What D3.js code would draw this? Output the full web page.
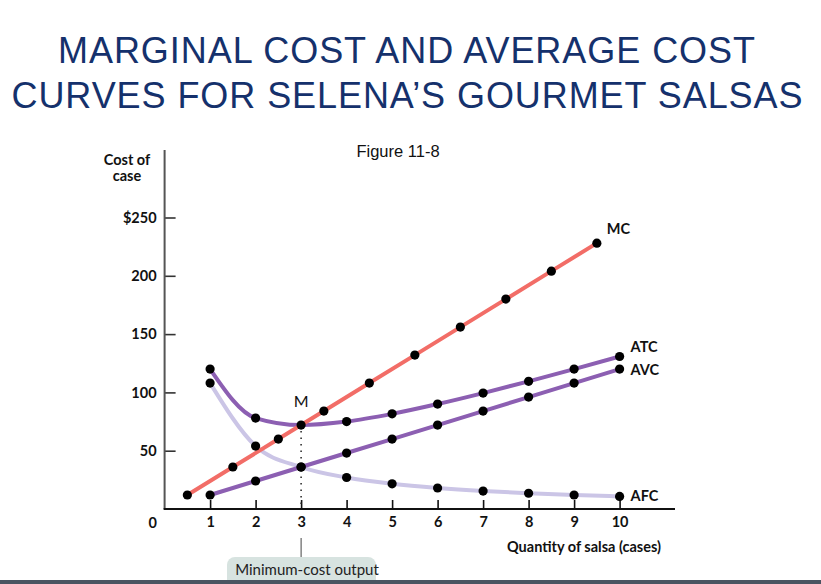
<!DOCTYPE html>
<html>
<head>
<meta charset="utf-8">
<style>
    body { margin: 0; background: #fff; }
    svg { display: block; }
    .title { font-family: "Liberation Sans", Arial, sans-serif; fill: #15316c; font-size: 36px; }
    .tick text, .lbl { font-family: Lato, "Open Sans", sans-serif; font-weight: 700; font-size: 14.5px; fill: #111; }
</style>
</head>
<body>
<svg width="821" height="584"></svg>
<script src="https://d3js.org/d3.v7.min.js"></script>
<script>
    // data (Selena's Gourmet Salsas)
    let qty = [1, 2, 3, 4, 5, 6, 7, 8, 9, 10]
    let atc = [120, 78, 72, 75, 81.6, 90, 99.4, 109.5, 120, 130.8]
    let avc = [12, 24, 36, 48, 60, 72, 84, 96, 108, 120]
    let afc = [108, 54, 36, 27, 21.6, 18, 15.4, 13.5, 12, 10.8]
    let mcQty = [0.5, 1.5, 2.5, 3.5, 4.5, 5.5, 6.5, 7.5, 8.5, 9.5]
    let mc = [12, 36, 60, 84, 108, 132, 156, 180, 204, 228]
    let yTicks = [50, 100, 150, 200, 250]
    let minCostQ = 3

    let svg = d3.select("svg")

    // title
    svg.append("text").attr("class", "title").attr("x", 406.5).attr("y", 63)
        .attr("text-anchor", "middle")
        .attr("textLength", 697).attr("lengthAdjust", "spacing")
        .text("MARGINAL COST AND AVERAGE COST")
    svg.append("text").attr("class", "title").attr("x", 407).attr("y", 108)
        .attr("text-anchor", "middle")
        .attr("textLength", 791).attr("lengthAdjust", "spacing")
        .text("CURVES FOR SELENA\u2019S GOURMET SALSAS")

    svg.append("text").attr("x", 398).attr("y", 157)
        .attr("text-anchor", "middle")
        .style("font-family", "Liberation Sans, Arial, sans-serif")
        .style("font-size", "16.5px").style("fill", "#111")
        .text("Figure 11-8")

    let x = d3.scaleLinear().domain([0, 10]).range([164.6, 619.6])
    let y = d3.scaleLinear().domain([0, 250]).range([509, 217.5])

    // axes
    let yAxis = d3.axisLeft(y).tickValues(yTicks)
        .tickSizeInner(-11).tickSizeOuter(0).tickPadding(8)
        .tickFormat(d => d == 250 ? "$250" : d)
    let gy = svg.append("g").attr("transform", "translate(" + x(0) + ",0)").call(yAxis)
    gy.select(".domain").remove()
    gy.selectAll(".tick line").style("stroke", "#333").style("stroke-width", 1.6)

    let xAxis = d3.axisBottom(x).tickValues(qty)
        .tickSizeInner(-9).tickSizeOuter(0).tickPadding(8)
    let gx = svg.append("g").attr("transform", "translate(0," + y(0) + ")").call(xAxis)
    gx.select(".domain").remove()
    gx.selectAll(".tick line").style("stroke", "#111").style("stroke-width", 1.6)

    svg.append("line")
        .attr("x1", x(0)).attr("x2", x(0)).attr("y1", 150).attr("y2", y(0))
        .style("stroke", "#555").style("stroke-width", 2)
    svg.append("line")
        .attr("x1", x(0) - 1).attr("x2", 675).attr("y1", y(0)).attr("y2", y(0))
        .style("stroke", "#111").style("stroke-width", 2)

    svg.append("text").attr("class", "lbl").attr("x", x(0) - 12).attr("y", y(0) + 19)
        .attr("text-anchor", "middle").text("0")
    svg.append("text").attr("class", "lbl").attr("x", 661).attr("y", 552)
        .attr("text-anchor", "end").text("Quantity of salsa (cases)")
    svg.append("text").attr("class", "lbl").attr("x", 127).attr("y", 165)
        .attr("text-anchor", "middle").text("Cost of")
    svg.append("text").attr("class", "lbl").attr("x", 127).attr("y", 181)
        .attr("text-anchor", "middle").text("case")

    // minimum-cost dotted line
    svg.append("line")
        .attr("x1", x(minCostQ)).attr("x2", x(minCostQ))
        .attr("y1", y(72) + 6).attr("y2", y(0) - 2)
        .style("stroke", "#222").style("stroke-width", 1.5)
        .style("stroke-dasharray", "1.5,5")

    // curves
    let lineCurve = d3.line().x(d => x(d[0])).y(d => y(d[1])).curve(d3.curveMonotoneX)
    let straight = d3.line().x(d => x(d[0])).y(d => y(d[1]))

    let series = [
        { name: "AFC", xs: qty, ys: afc, color: "#cbc5e6", gen: lineCurve },
        { name: "AVC", xs: qty, ys: avc, color: "#8c5fb2", gen: straight },
        { name: "ATC", xs: qty, ys: atc, color: "#8c5fb2", gen: lineCurve },
        { name: "MC", xs: mcQty, ys: mc, color: "#f26d67", gen: straight }
    ]

    series.forEach(s => {
        let pts = s.xs.map((q, i) => [q, s.ys[i]])
        svg.append("path")
            .attr("d", s.gen(pts))
            .style("fill", "none")
            .style("stroke", s.color)
            .style("stroke-width", 4)
            .style("stroke-linecap", "round")
    })

    series.forEach(s => {
        let pts = s.xs.map((q, i) => [q, s.ys[i]])
        svg.selectAll(".dot-" + s.name)
            .data(pts)
            .join("circle")
            .attr("cx", d => x(d[0]))
            .attr("cy", d => y(d[1]))
            .attr("r", 4.6)
            .style("fill", "#000")
    })

    // curve labels
    let lastMC = mc.length - 1
    svg.append("text").attr("class", "lbl").attr("x", x(mcQty[lastMC]) + 10).attr("y", y(mc[lastMC]) - 9).text("MC")
    svg.append("text").attr("class", "lbl").attr("x", x(10) + 11).attr("y", y(atc[9]) - 4).text("ATC")
    svg.append("text").attr("class", "lbl").attr("x", x(10) + 11).attr("y", y(avc[9]) + 6).text("AVC")
    svg.append("text").attr("class", "lbl").attr("x", x(10) + 11).attr("y", y(afc[9]) + 5).text("AFC")

    svg.append("text").attr("x", x(minCostQ)).attr("y", y(72) - 18)
        .attr("text-anchor", "middle")
        .style("font-family", "Lato, sans-serif").style("font-size", "16px").style("fill", "#111")
        .text("M")

    // minimum-cost output callout
    svg.append("line")
        .attr("x1", x(minCostQ)).attr("x2", x(minCostQ)).attr("y1", 538).attr("y2", 557)
        .style("stroke", "#444").style("stroke-width", 1)
    svg.append("rect")
        .attr("x", 227).attr("y", 557).attr("width", 149).attr("height", 36).attr("rx", 8)
        .style("fill", "#d7e3e0")
    svg.append("text").attr("x", 307).attr("y", 575)
        .attr("text-anchor", "middle")
        .style("font-family", "Lato, sans-serif").style("font-size", "15px").style("fill", "#222")
        .text("Minimum-cost output")

    // bottom rule
    svg.append("rect").attr("x", 0).attr("y", 580).attr("width", 821).attr("height", 4)
        .style("fill", "#4a5461")
</script>
</body>
</html>
